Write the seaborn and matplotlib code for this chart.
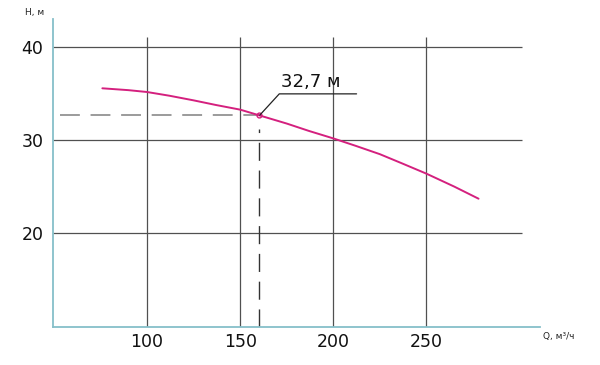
import matplotlib
matplotlib.use("Agg")
import matplotlib.pyplot as plt
import seaborn as sns
import pandas as pd

# Data
flow_q = [76, 90, 100, 112, 125, 137, 150, 160, 175, 187, 200, 212, 225, 237, 250, 265, 278]
head_h = [35.6, 35.4, 35.2, 34.8, 34.3, 33.8, 33.3, 32.7, 31.8, 31.0, 30.2, 29.4, 28.5, 27.5, 26.4, 25.0, 23.7]
x_ticks = [100, 150, 200, 250]
y_ticks = [20, 30, 40]
point_q = 160
point_h = 32.7
point_label = "32,7 м"
x_label = "Q, м³/ч"
y_label = "Н, м"

sns.set_theme(style="white")
plt.rcParams['font.family'] = ['DejaVu Sans']

fig = plt.figure(figsize=(6.0, 3.65), dpi=100)
ax = fig.add_axes([53/600, 38/365, 487/600, 308/365])
ax.set_xlim(49.5, 311)
ax.set_ylim(9.87, 43.07)

grid_col = "#505050"
ax.hlines(y_ticks, 49.5, 301.5, color=grid_col, lw=0.9, zorder=1)
ax.vlines(x_ticks, 9.87, 41.1, color=grid_col, lw=0.9, zorder=1)

# dashed guides to the operating point
ax.hlines(point_h, 53, point_q, color="#808080", lw=1.1, linestyles=(0, (13, 7)), zorder=2)
ax.vlines(point_q, 9.87, 31.2, color="#333333", lw=1.0, linestyles=(0, (13, 7)), zorder=2)

df = pd.DataFrame({"Q": flow_q, "H": head_h})
sns.lineplot(data=df, x="Q", y="H", ax=ax, color="#d4207e", lw=1.4, zorder=3)
ax.plot([point_q], [point_h], marker="o", ms=3.5, mfc="none", mec="#d4207e", mew=1.0, zorder=4)

# annotation leader
ax.plot([point_q + 0.5, 171, 212.5], [point_h, 35.0, 35.0], color="#222222", lw=0.9, zorder=4)
ax.text(172, 35.35, point_label, fontsize=13, color="#111111", ha="left", va="bottom")

for s in ["top", "right"]:
    ax.spines[s].set_visible(False)
for s in ["left", "bottom"]:
    ax.spines[s].set_color("#86bfc9")
    ax.spines[s].set_linewidth(1.3)

ax.set_xticks(x_ticks)
ax.set_yticks(y_ticks)
ax.tick_params(axis="both", length=0, labelsize=12.5, labelcolor="#111111")
ax.tick_params(axis="x", pad=4)
ax.tick_params(axis="y", pad=7)
ax.set_xlabel("")
ax.set_ylabel("")

fig.text(25/600, 1 - 12/365, y_label, fontsize=6.5, ha="left", va="center", color="#222222")
fig.text(543/600, 1 - 337/365, x_label, fontsize=6.5, ha="left", va="center", color="#222222")

fig.savefig("out.png", dpi=100, facecolor="white")
